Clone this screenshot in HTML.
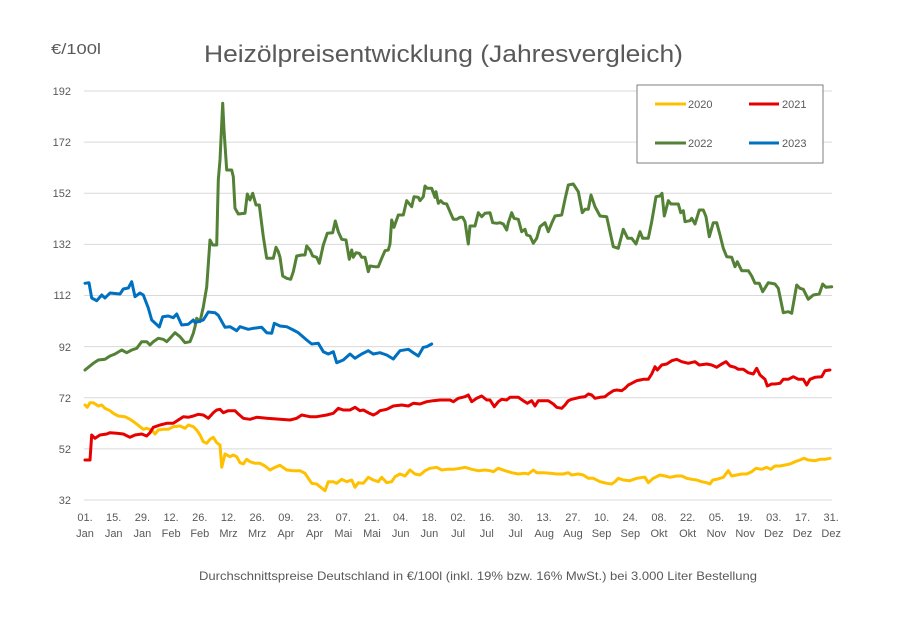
<!DOCTYPE html>
<html><head><meta charset="utf-8"><style>
html,body{margin:0;padding:0;background:#fff;}
svg{display:block;}
text{font-family:"Liberation Sans",sans-serif;fill:#595959;}
</style></head><body>
<svg width="906" height="636" viewBox="0 0 906 636" xmlns="http://www.w3.org/2000/svg">
<rect width="906" height="636" fill="#fff"/>
<!-- gridlines -->
<g stroke="#D9D9D9" stroke-width="1">
<line x1="84" y1="91" x2="832" y2="91"/>
<line x1="84" y1="142.1" x2="832" y2="142.1"/>
<line x1="84" y1="193.3" x2="832" y2="193.3"/>
<line x1="84" y1="244.4" x2="832" y2="244.4"/>
<line x1="84" y1="295.5" x2="832" y2="295.5"/>
<line x1="84" y1="346.6" x2="832" y2="346.6"/>
<line x1="84" y1="397.8" x2="832" y2="397.8"/>
<line x1="84" y1="448.9" x2="832" y2="448.9"/>
<line x1="84" y1="500" x2="832" y2="500"/>
</g>
<!-- y labels -->
<g font-size="11" text-anchor="end">
<text x="71" y="95">192</text>
<text x="71" y="146">172</text>
<text x="71" y="197">152</text>
<text x="71" y="248">132</text>
<text x="71" y="299">112</text>
<text x="71" y="351">92</text>
<text x="71" y="402">72</text>
<text x="71" y="453">52</text>
<text x="71" y="504">32</text>
</g>
<!-- x labels -->
<g font-size="11" text-anchor="middle">
<text x="85" y="521">01.</text><text x="85" y="537">Jan</text>
<text x="113.7" y="521">15.</text><text x="113.7" y="537">Jan</text>
<text x="142.4" y="521">29.</text><text x="142.4" y="537">Jan</text>
<text x="171.1" y="521">12.</text><text x="171.1" y="537">Feb</text>
<text x="199.8" y="521">26.</text><text x="199.8" y="537">Feb</text>
<text x="228.5" y="521">12.</text><text x="228.5" y="537">Mrz</text>
<text x="257.2" y="521">26.</text><text x="257.2" y="537">Mrz</text>
<text x="285.9" y="521">09.</text><text x="285.9" y="537">Apr</text>
<text x="314.6" y="521">23.</text><text x="314.6" y="537">Apr</text>
<text x="343.3" y="521">07.</text><text x="343.3" y="537">Mai</text>
<text x="372" y="521">21.</text><text x="372" y="537">Mai</text>
<text x="400.7" y="521">04.</text><text x="400.7" y="537">Jun</text>
<text x="429.4" y="521">18.</text><text x="429.4" y="537">Jun</text>
<text x="458.1" y="521">02.</text><text x="458.1" y="537">Jul</text>
<text x="486.8" y="521">16.</text><text x="486.8" y="537">Jul</text>
<text x="515.5" y="521">30.</text><text x="515.5" y="537">Jul</text>
<text x="544.2" y="521">13.</text><text x="544.2" y="537">Aug</text>
<text x="572.9" y="521">27.</text><text x="572.9" y="537">Aug</text>
<text x="601.6" y="521">10.</text><text x="601.6" y="537">Sep</text>
<text x="630.3" y="521">24.</text><text x="630.3" y="537">Sep</text>
<text x="659" y="521">08.</text><text x="659" y="537">Okt</text>
<text x="687.7" y="521">22.</text><text x="687.7" y="537">Okt</text>
<text x="716.4" y="521">05.</text><text x="716.4" y="537">Nov</text>
<text x="745.1" y="521">19.</text><text x="745.1" y="537">Nov</text>
<text x="773.8" y="521">03.</text><text x="773.8" y="537">Dez</text>
<text x="802.5" y="521">17.</text><text x="802.5" y="537">Dez</text>
<text x="831.2" y="521">31.</text><text x="831.2" y="537">Dez</text>
</g>
<!-- series -->
<g fill="none" stroke-width="3" stroke-linejoin="round" stroke-linecap="round">
<polyline stroke="#FFC000" points="85,405 87.3,407.3 90,402.7 93.3,402.7 98.3,406 101.7,405 105,408.3 110,410.7 113.3,413.3 118.3,416 125,416.7 130,419.3 135,422.7 140,426.7 143.3,429.3 146.7,428.3 151.7,430 155,434 158.3,430 163.3,429.3 168.3,429.3 173.3,426.7 180,426 185,428.3 188.3,425 193.3,426.7 196.7,430 200,435 203.3,441.7 206.7,443.3 210,439.3 213.3,437.3 216.7,442.7 220,445 221.7,467.3 225,454 230,456.7 233.3,455 236.7,456.7 240,462.7 243.3,464 246.7,459.3 250,461.7 255,463.3 260,463.3 265,466 270,470 275,467.3 280,465.3 286.7,470 293.3,470.7 300,470.7 305,473.3 308.3,478.3 311.7,483.3 316.7,484 320,486.7 325,490.7 328.3,481.7 333.3,481.7 336.7,483.3 341.7,479.3 346.7,481.7 351.7,480 355,487.3 358.3,482.7 363.3,483.3 368.3,477.3 373.3,480 378.3,481.7 381.7,477.3 386.7,482.7 391.7,481.7 395,476.7 400,474 405,476 410,470 415,474 420,475 425,470.7 430,468.3 436.7,467.3 441.7,470 446.7,469.3 453.3,469.3 460,468.3 465,467.3 471.7,469.3 478.3,470.7 485,470 490,470.7 493.3,471.7 498.3,468.3 505,470.7 511.7,472.7 518.3,474 525,473.3 528.3,474 533.3,470 536.7,472.7 543.3,472.7 550,473.3 556.7,474 563.3,474 568.3,472.7 571.7,475 578.3,474 583.3,475 588.3,478.3 593.3,478.3 600,481.7 606.7,483.3 611.7,484 615,481.7 618.3,478.3 623.3,480 630,480.7 636.7,478.3 643.3,477.3 645,477.3 648.3,482.7 653.3,478.3 660,475 665,476 670,477.3 676.7,476 681.7,476 686.7,478.3 691.7,479.3 696.7,480 701.7,481.7 706.7,482.7 710,484 712.7,480 716.7,479.3 723.3,477.3 728.3,470.7 731.7,476 736.7,475 741.7,474 746.7,474 751.7,471.7 756,468.3 761.7,469.3 766.7,467.3 770.7,469.3 775,466 780,466 785,465 790,464 795,461.7 800,460 804,458.3 808.3,460 815,460.7 820,459.3 825,459.3 830,458.3"/>
<polyline stroke="#E60000" points="85,460 90,460 91.7,435 95,438.3 100,435 106.7,434 110,432.7 116.7,433.3 123.3,434 130,437.3 135,435 141.7,434 146.7,436 150,432.7 153.3,427.3 160,425 166.7,423.3 173.3,423.3 178.3,420 183.3,416.7 188.3,417.3 193.3,416 198.3,414.3 203.3,415 208.3,418.3 213.3,412.7 216.7,410 220,409.3 223.3,412.7 228.3,410.7 235,410.7 238.3,414 243.3,418.3 250,419.3 256.7,417.3 266.7,418.3 280,419.3 290,420 296.7,418.3 301.7,415 310,416.7 316.7,416.7 326.7,415 333.3,413.3 338.3,408.3 343.3,410 350,410 355,407.3 360,410.7 363.3,410 368.3,412.7 373.3,415 376.7,413.3 380,410.7 386.7,409.3 393.3,406 401.7,405 408.3,406 413.3,403.3 420,404 426.7,401.7 433.3,400.7 440,400 450,400 453.3,401.7 458.3,398.3 465,396.7 468.3,395 471.7,401.7 476.7,398.3 481.7,396 486.7,400 490,400 494.3,406.7 498.3,401.7 501.7,399.3 506.7,400 510,397.3 518.3,397.3 523.3,400.7 527.3,403.3 531.7,400.7 535,406 538.3,400.7 548.3,400.7 553.3,404 556.7,407.3 561.7,408.3 565,405 568.3,400.7 571.7,399.3 580,397.3 585,396.7 588.3,394 591.7,395 595,398.3 600,397.3 605,396.7 608.3,394 613.3,390.7 616.7,390 621.7,390.7 625,388.3 628.3,385 631.7,383.3 636.7,380.7 640,380 643.3,379.3 648.3,379.3 651.7,374 655,366.7 657.3,370 661.7,365 666.7,364 671.7,360.7 676.7,359.3 681.7,361.7 688.3,363.3 695,361.7 699.3,365 706.7,364 711.7,365 716.7,367.3 721.7,364 726,361.7 730,366 735,367.3 738.3,369.3 743.3,369.3 748.3,372.7 753.3,374 756.7,368.3 760,375 765,379.3 767.3,386 771.7,384 775,384 780,383.3 783.3,379.3 788.3,379.3 793.3,376.7 798.3,379.3 803.3,379.3 806.7,385 810,379.3 815,377.3 821.7,376.7 825,370.7 830,370"/>
<polyline stroke="#538135" points="85,370 93.3,363.3 98.3,360 105,359.3 110,356 115,354 121.7,350 126.7,352.7 131.7,350 136.7,348.3 141.7,341.7 146.7,341.7 150,345 153.3,341.7 158.3,338.3 163.3,339.3 166.7,341.7 170,338.3 175,332.7 180,336.7 185,342.7 190,341.7 193.3,333.3 195,326.7 196.7,318.3 200,321.7 203.3,307 206.7,287 210,240 212.7,245 216.7,245 218.3,180 220,160 222.7,103.3 224,130 226.7,170 231.7,170 233.3,176.7 235,208.3 238.3,214 245,213.3 247.3,194 250,200 252.7,193.3 256,205 259.3,205 263.3,236.7 266.7,258.3 273.3,258.3 276,247.3 278.3,251.7 280,257.3 282.7,276 286.7,278.3 290.7,279.3 293.3,271.7 296.7,256 301.7,255 305,255 306.7,246 310,250 312.7,256 316.7,257.3 319.3,263.3 323.3,245 327.3,233.3 332.7,232.7 335.3,221 338.3,231.7 341.7,239.3 346,240 349.3,259.3 351.7,250 353.3,257.3 356,252.7 359.3,253.3 361.7,257.3 365,257.3 368.3,271.7 370,266 375,266.7 378.3,266.7 381.7,258.3 385,250.7 388.3,250 390,244 391.7,220 394,227.3 398.3,215 403.3,215 406.7,200.7 411.7,206.7 414,196.7 418.3,197.3 420,200.7 423.3,196.7 425,186 427.3,188.3 431.7,188.3 435,197.3 436,191.7 438.3,203.3 440.7,200.7 443.3,203.3 446.7,204 450,211.7 453.3,219.3 456.7,219.3 460,217.3 462.7,217.3 465,221.7 468.3,244 470,226 475,226 478.3,212.7 481.7,216.7 485,213.3 490,212.7 492.7,222.7 496.7,223.3 500,222.7 503.3,224 506.7,230 508.3,222.7 511.7,212.7 514,218.3 518.3,219.3 521.7,231.7 525,229.3 526.7,235 530,236 533.3,243.3 536.7,238.3 540,226.7 545,222.7 548.3,231.7 551.7,223.3 555,216 561.7,215 565,199.3 568.3,185 573.3,184 578.3,191.7 582.3,212.7 585,209.3 588.3,209.3 591,195 595,206.7 600,216 606.7,216.7 613.3,246.7 618.3,248.3 623.3,229.3 627.7,238.3 631.7,238.3 636,244 640,231.7 642.7,238.3 648.3,238.3 651.7,221.7 656,196.7 660,196 662,193.3 664.3,216 668.3,200.7 671,204 678.3,204 680.7,212.7 683.3,210.7 685,221.7 690,220.7 691.7,218.3 695,224 699.3,210 703.3,210 706,216.7 709.3,236.7 713.3,222.7 716.7,222.7 720,235 723.3,248.3 726.7,256.7 731.7,257.3 735,266.7 737.3,261.7 741.7,270.7 748.3,270.7 751.7,276 755,283.3 759.3,283.3 762.7,291.7 768.3,282.7 775,284 778.3,288.3 783.3,312.7 788.3,311.7 791.7,313.3 796.7,285 800,288.3 803.3,289.3 808.3,299.3 813.3,295 819.3,294 822.7,284 826,287.3 831.7,286.7"/>
<polyline stroke="#0070C0" points="85,283.3 89,282.7 91.7,298 96.7,300.7 101.7,295 105,298 110,293 120,294 123.3,289 128.3,288 131.7,281.7 135,296.7 140,293 143.3,295 148.3,308 151.7,320 155,323 159.3,327 162.7,316.7 168.3,316 173.3,317.7 176.7,314 181.7,325 188.3,324.3 193.3,320 195,322.7 203.3,320 208.3,312 215,312.7 218.3,315.3 225,327.3 230,326.7 236.7,330.7 240,326.7 248.3,329.3 253.3,328.3 261.7,327.3 266.7,332.7 271.7,333.3 274.3,323.3 280,326 286.7,326.7 293.3,330 298.3,332.7 306.7,340 311.7,344 318.3,343.3 323.3,351.7 328.3,354 333.3,351.7 336.7,362.7 343.3,360 350,354 355,358.3 361.7,354 368.3,350.7 373.3,354 380,352.7 386.7,355 393.3,359 400,350.7 408.3,349.3 413.3,352.7 418.3,356 423.3,347.3 426.7,346.7 431.7,344"/>
</g>
<!-- legend -->
<rect x="637" y="85" width="186" height="78" fill="#fff" stroke="#7F7F7F" stroke-width="1"/>
<g stroke-width="3">
<line x1="655" y1="104" x2="686" y2="104" stroke="#FFC000"/>
<line x1="749" y1="104" x2="779" y2="104" stroke="#E60000"/>
<line x1="655" y1="143" x2="686" y2="143" stroke="#538135"/>
<line x1="749" y1="143" x2="779" y2="143" stroke="#0070C0"/>
</g>
<g font-size="11">
<text x="688" y="108">2020</text>
<text x="782" y="108">2021</text>
<text x="688" y="147">2022</text>
<text x="782" y="147">2023</text>
</g>
<!-- titles -->
<text x="51" y="54" font-size="15" textLength="50" lengthAdjust="spacingAndGlyphs">€/100l</text>
<text x="204" y="62" font-size="24" textLength="479" lengthAdjust="spacingAndGlyphs">Heizölpreisentwicklung (Jahresvergleich)</text>
<text x="199" y="580" font-size="12" textLength="558" lengthAdjust="spacingAndGlyphs">Durchschnittspreise Deutschland in €/100l (inkl. 19% bzw. 16%  MwSt.) bei 3.000 Liter Bestellung</text>
</svg>
</body></html>
